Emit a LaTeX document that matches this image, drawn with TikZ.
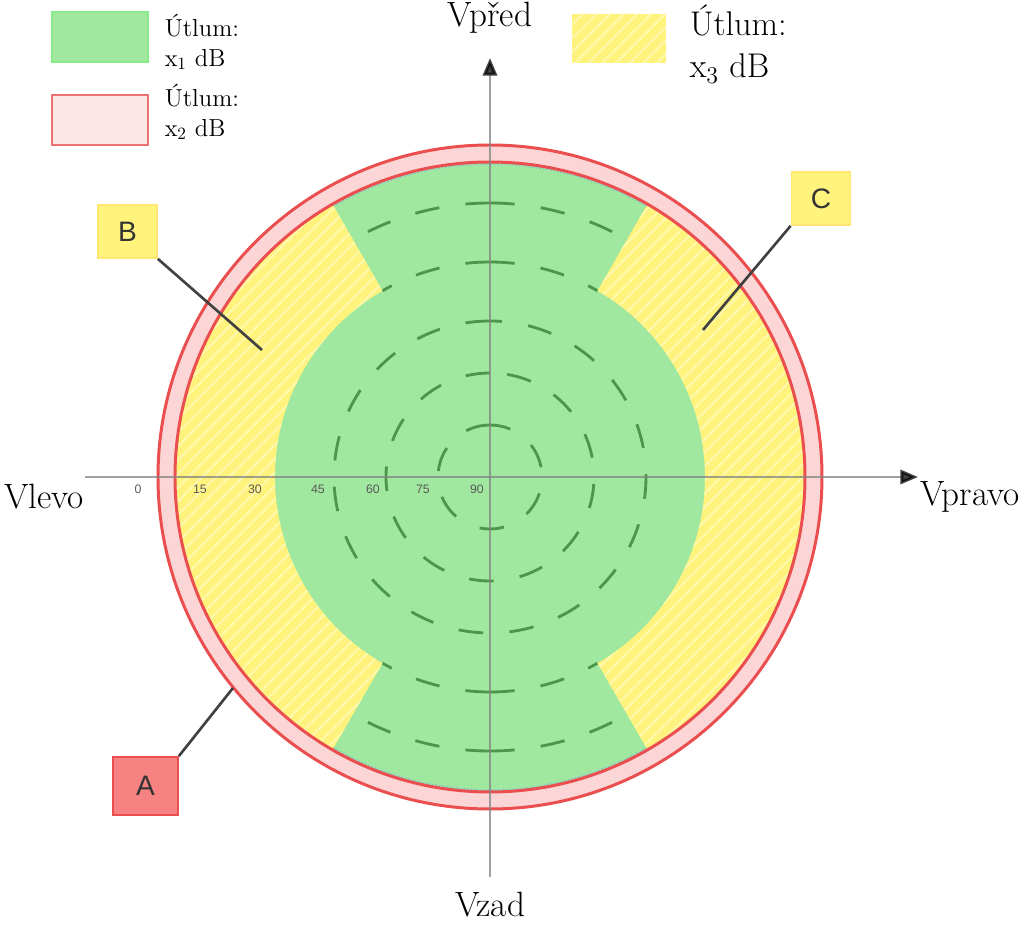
\documentclass[tikz,border=0pt]{standalone}
\usepackage{fontspec}
\setsansfont{Liberation Sans}
\usetikzlibrary{arrows.meta,patterns.meta,positioning}

\definecolor{zelena}{RGB}{160,232,160}
\definecolor{zelenatm}{RGB}{74,150,74}
\definecolor{zluta}{RGB}{255,243,125}
\definecolor{zlutasv}{RGB}{255,249,175}
\definecolor{ruzova}{RGB}{252,214,214}
\definecolor{cervena}{RGB}{234,78,78}
\definecolor{cervenasv}{RGB}{246,130,130}
\definecolor{osa}{RGB}{130,130,130}

\begin{document}
\begin{tikzpicture}[
                node distance=0.3cm,
                legbox/.style={minimum width=1.92cm,minimum height=1cm,inner sep=0pt,line width=1.6pt},
                legtext/.style={align=left,inner sep=0pt,font=\fontsize{14}{17}\selectfont},
                stitek/.style={minimum width=1.18cm,minimum height=1.06cm,inner sep=0pt,line width=1pt,
                    font=\sffamily\fontsize{16}{18}\selectfont,text=black!80},
                vodic/.style={line width=1.5pt,black!75},
                kruh/.style={line width=1.6pt,zelenatm,dash pattern=on 14pt off 15pt},
                zona/.style={fill=zluta,postaction={pattern={Lines[angle=45,distance=5.5pt,line width=1.1pt]},pattern color=zlutasv}},
                osy/.style={line width=1.7pt,osa,opacity=0.75,-{Triangle[length=10pt,width=8pt,color=black]}},
                smer/.style={font=\fontsize{20}{22}\selectfont},
                popis/.style={font=\sffamily\fontsize{7}{8}\selectfont,text=black!65,inner sep=0pt}
            ]
                \useasboundingbox (-9.8,-8.96) rectangle (10.68,9.54);

                % kruh s utlumem
                \fill[ruzova] (0,0) circle (6.64);
                \fill[zelena] (0,0) circle (6.3);
                \foreach \r in {1.04,2.08,3.12}
                    \draw[kruh] (90:\r) arc (90:450:\r);
                \foreach \r in {4.3,5.48} {
                    \draw[kruh] (90:\r) arc (90:60:\r) (90:\r) arc (90:120:\r);
                    \draw[kruh] (270:\r) arc (270:240:\r) (270:\r) arc (270:300:\r);
                }
                \path[zona] (-60:4.3) -- (-60:6.3) arc (-60:60:6.3) -- (60:4.3) arc (60:-60:4.3) -- cycle;
                \path[zona] (120:4.3) -- (120:6.3) arc (120:240:6.3) -- (240:4.3) arc (240:120:4.3) -- cycle;
                \draw[densely dotted,line width=1pt,teal!45] (60:6.26) arc (60:120:6.26);
                \draw[densely dotted,line width=1pt,teal!45] (240:6.26) arc (240:300:6.26);
                \draw[cervena,line width=1.7pt] (0,0) circle (6.64) (0,0) circle (6.3);

                % osy
                \draw[osy] (-8.1,0) -- (8.56,0);
                \draw[osy] (0,-8.0) -- (0,8.38);
                \foreach \t/\x in {0/-7.04,15/-5.8,30/-4.7,45/-3.44,60/-2.34,75/-1.34,90/-0.26}
                    \node[popis] (t\t) at (\x,-0.24) {\t};

                \node[smer] (vpred)  at (0,9.18)     {Vpřed};
                \node[smer] (vzad)   at (0,-8.56)    {Vzad};
                \node[smer] (vlevo)  at (-8.92,-0.4) {Vlevo};
                \node[smer] (vpravo) at (9.6,-0.4)   {Vpravo};

                % legenda
                \node[legbox,fill=zelena,draw=zelena!85!green] (L1) at (-7.8,8.8) {};
                \node[legtext,right=of L1,yshift=-0.1cm] (T1) {Útlum:\\x\textsubscript{1} dB};
                \node[legbox,fill=ruzova!60,draw=cervena!80] (L2) at (-7.8,7.14) {};
                \node[legtext,right=of L2,yshift=0.16cm] (T2) {Útlum:\\x\textsubscript{2} dB};
                \node[legbox,zona,minimum width=1.88cm,minimum height=0.98cm] (L3) at (2.58,8.77) {};
                \node[legtext,right=0.44cm of L3,yshift=-0.12cm,font=\fontsize{19.5}{24}\selectfont] (T3) {Útlum:\\x\textsubscript{3} dB};

                % oznaceni oblasti
                \node[stitek,fill=zluta,draw=zluta!90!orange] (B) at (-7.25,4.91) {B};
                \node[stitek,fill=zluta,draw=zluta!90!orange] (C) at (6.62,5.57)  {C};
                \node[stitek,fill=cervenasv,draw=cervena,minimum width=1.3cm,minimum height=1.16cm] (A) at (-6.89,-6.18) {A};
                \coordinate (bB) at (-4.56,2.54);
                \coordinate (bC) at (4.26,2.94);
                \coordinate (bA) at (-5.14,-4.22);
                \draw[vodic] (B.south east) -- (bB);
                \draw[vodic] (C.south west) -- (bC);
                \draw[vodic] (A.north east) -- (bA);
            \end{tikzpicture}
\end{document}
